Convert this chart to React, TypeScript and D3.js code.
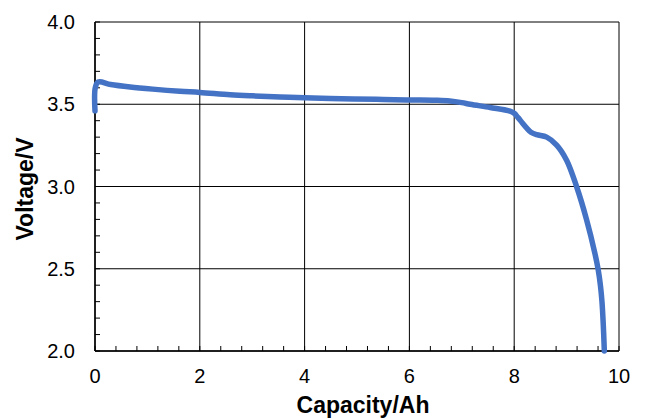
import React, { useEffect, useRef } from 'react';
import * as d3 from 'd3';

// discharge curve
const capacity = [
  0, 0.005, 0.06, 0.3, 0.67, 1.1, 1.62, 2.0, 2.58, 3.0, 3.53, 4.0, 4.93, 5.5,
  6.01, 6.5, 6.77, 7.0, 7.16, 7.54, 7.92, 8.0, 8.07, 8.16, 8.24, 8.32, 8.43,
  8.62, 8.81, 9.0, 9.19, 9.38, 9.54, 9.605, 9.645, 9.675, 9.7, 9.72,
];
const voltage = [
  3.46, 3.6, 3.635, 3.62, 3.605, 3.592, 3.579, 3.572, 3.558, 3.551, 3.544, 3.54,
  3.532, 3.529, 3.526, 3.524, 3.52, 3.51, 3.5, 3.48, 3.458, 3.445, 3.42, 3.385,
  3.355, 3.33, 3.315, 3.3, 3.252, 3.16, 3.0, 2.8, 2.594, 2.49, 2.4, 2.3, 2.16, 2.0,
];

const xTicks = [0, 2, 4, 6, 8, 10];
const yTicks = [2.0, 2.5, 3.0, 3.5, 4.0];
const xMinor = d3.range(0, 10.001, 0.4);
const yMinor = d3.range(2, 4.001, 0.1);

const W = 646;
const H = 419;
const margin = { top: 22, right: 27, bottom: 68, left: 95 };

const App: React.FC = () => {
  const svgRef = useRef<SVGSVGElement>(null);

  useEffect(() => {
    document.body.style.margin = '0';
    if (!svgRef.current) return;
    const svg = d3.select(svgRef.current);
    svg.selectAll('*').remove();

    const x = d3.scaleLinear().domain([0, 10]).range([margin.left, W - margin.right]);
    const y = d3.scaleLinear().domain([2, 4]).range([H - margin.bottom, margin.top]);
    const font = 'Liberation Sans, Arial, sans-serif';

    // grid
    svg.append('g')
      .selectAll('line')
      .data(xTicks)
      .enter()
      .append('line')
      .attr('x1', d => x(d)).attr('x2', d => x(d))
      .attr('y1', y(2)).attr('y2', y(4))
      .attr('stroke', '#000').attr('stroke-width', 1);
    svg.append('g')
      .selectAll('line')
      .data(yTicks)
      .enter()
      .append('line')
      .attr('x1', x(0)).attr('x2', x(10))
      .attr('y1', d => y(d)).attr('y2', d => y(d))
      .attr('stroke', '#000').attr('stroke-width', 1);

    // minor ticks, pointing inward
    svg.append('g')
      .selectAll('line')
      .data(xMinor)
      .enter()
      .append('line')
      .attr('x1', d => x(d)).attr('x2', d => x(d))
      .attr('y1', y(2)).attr('y2', y(2) - 5)
      .attr('stroke', '#000');
    svg.append('g')
      .selectAll('line')
      .data(yMinor)
      .enter()
      .append('line')
      .attr('x1', x(0)).attr('x2', x(0) + 5)
      .attr('y1', d => y(d)).attr('y2', d => y(d))
      .attr('stroke', '#000');

    // axes lines
    svg.append('line')
      .attr('x1', x(0)).attr('x2', x(10)).attr('y1', y(2)).attr('y2', y(2))
      .attr('stroke', '#000').attr('stroke-width', 1.5);
    svg.append('line')
      .attr('x1', x(0)).attr('x2', x(0)).attr('y1', y(2)).attr('y2', y(4))
      .attr('stroke', '#000').attr('stroke-width', 1.5);

    // tick labels
    svg.append('g')
      .selectAll('text')
      .data(xTicks)
      .enter()
      .append('text')
      .attr('x', d => x(d))
      .attr('y', y(2) + 32)
      .attr('text-anchor', 'middle')
      .attr('font-family', font)
      .attr('font-size', 20)
      .text(d => d);
    svg.append('g')
      .selectAll('text')
      .data(yTicks)
      .enter()
      .append('text')
      .attr('x', x(0) - 20)
      .attr('y', d => y(d))
      .attr('dy', '0.36em')
      .attr('text-anchor', 'end')
      .attr('font-family', font)
      .attr('font-size', 20)
      .text(d => d.toFixed(1));

    // axis titles
    svg.append('text')
      .attr('x', 363)
      .attr('y', 413)
      .attr('text-anchor', 'middle')
      .attr('font-family', font)
      .attr('font-size', 23)
      .attr('font-weight', 'bold')
      .text('Capacity/Ah');
    svg.append('text')
      .attr('transform', `translate(33,189) rotate(-90)`)
      .attr('text-anchor', 'middle')
      .attr('font-family', font)
      .attr('font-size', 23)
      .attr('font-weight', 'bold')
      .text('Voltage/V');

    // curve
    const pts = capacity.map((c, i) => [c, voltage[i]] as [number, number]);
    const line = d3.line<[number, number]>()
      .x(d => x(d[0]))
      .y(d => y(d[1]))
      .curve(d3.curveCatmullRom.alpha(0.5));
    svg.append('path')
      .datum(pts)
      .attr('d', line)
      .attr('fill', 'none')
      .attr('stroke', '#4472C4')
      .attr('stroke-width', 5.5)
      .attr('stroke-linejoin', 'round')
      .attr('stroke-linecap', 'round');
  }, []);

  return <svg ref={svgRef} width={W} height={H} style={{ display: 'block', background: '#fff' }} />;
};

export default App;
